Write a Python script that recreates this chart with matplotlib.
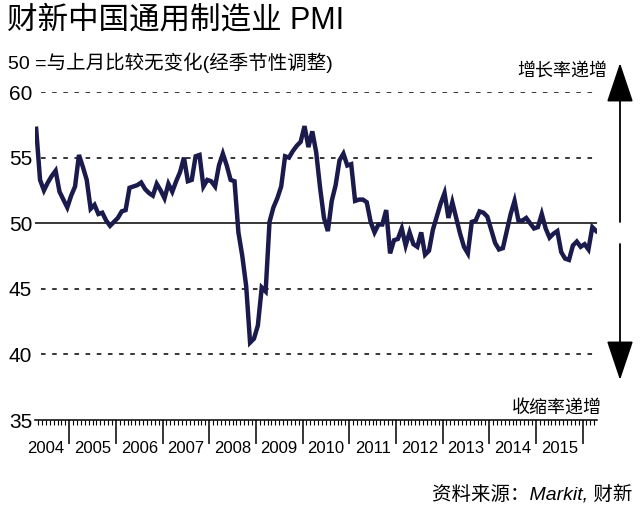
import matplotlib
matplotlib.use("Agg")
import matplotlib.pyplot as plt
from matplotlib.transforms import blended_transform_factory

plt.rcParams['font.family'] = ['Liberation Sans', 'Noto Sans CJK SC', 'DejaVu Sans']

# monthly PMI, Apr 2004 .. Apr 2016 (index 0 = Apr 2004)
pmi = [
    57.2, 53.3, 52.5, 53.1, 53.6, 54.0, 52.4, 51.8, 51.2, 52.1, 52.8, 55.2,
    54.3, 53.3, 51.1, 51.4, 50.7, 50.8, 50.2, 49.8, 50.1, 50.4, 50.9, 51.0,
    52.7, 52.8, 52.9, 53.1, 52.6, 52.3, 52.1, 53.0, 52.5, 51.9, 53.0, 52.4,
    53.2, 53.9, 55.0, 53.2, 53.3, 55.1, 55.2, 52.8, 53.3, 53.2, 52.8, 54.4,
    55.3, 54.4, 53.3, 53.2, 49.3, 47.5, 45.2, 40.9, 41.2, 42.2, 45.1, 44.8,
    50.1, 51.2, 51.9, 52.8, 55.1, 55.0, 55.5, 55.9, 56.2, 57.4, 55.8, 57.0,
    55.4, 52.7, 50.4, 49.4, 51.7, 52.9, 54.8, 55.3, 54.4, 54.5, 51.7, 51.8,
    51.8, 51.6, 50.1, 49.3, 49.9, 49.9, 51.0, 47.7, 48.7, 48.8, 49.6, 48.3,
    49.3, 48.4, 48.2, 49.3, 47.6, 47.9, 49.5, 50.5, 51.5, 52.3, 50.4, 51.6,
    50.4, 49.2, 48.2, 47.7, 50.1, 50.2, 50.9, 50.8, 50.5, 49.5, 48.5, 48.0,
    48.1, 49.4, 50.7, 51.7, 50.2, 50.2, 50.4, 50.0, 49.6, 49.7, 50.7, 49.6,
    48.9, 49.2, 49.4, 47.8, 47.3, 47.2, 48.3, 48.6, 48.2, 48.4, 48.0, 49.7,
    49.4,
]
years = list(range(2004, 2016))
y_ticks = [35, 40, 45, 50, 55, 60]
dashed_levels = [40, 45, 55, 60]

title = "财新中国通用制造业 PMI"
subtitle = "50 =与上月比较无变化(经季节性调整)"
up_label = "增长率递增"
down_label = "收缩率递增"
source = "资料来源：Markit, 财新"

W, H = 640, 509
fig = plt.figure(figsize=(W / 100, H / 100), dpi=100)
ax = fig.add_axes([35 / W, (H - 420) / H, 562 / W, 328 / H])

months = list(range(len(pmi)))
ax.plot(months, pmi, color='#1b1a4d', lw=3.2, solid_joinstyle='miter', zorder=3)

ax.set_xlim(-0.3, 144.2)
ax.set_ylim(35, 60)

for lv in dashed_levels:
    ax.axhline(lv, xmin=0.01, xmax=0.993, color='black', lw=1.1,
               dashes=(3.0, 4.3), zorder=1)
ax.axhline(50, color='black', lw=1.1, zorder=2)

for s in ['left', 'right', 'top']:
    ax.spines[s].set_visible(False)
ax.spines['bottom'].set_linewidth(1.1)

ax.set_yticks(y_ticks)
ax.set_yticklabels([str(v) for v in y_ticks], fontsize=15)
ax.tick_params(axis='y', length=0, pad=2)

# year boundaries as major ticks, months as minor ticks
major = [8.5 + 12 * k for k in range(len(years))]
minor = [0.5 + k for k in range(144)]
ax.set_xticks(major)
ax.set_xticklabels([])
ax.set_xticks(minor, minor=True)
ax.tick_params(axis='x', which='major', length=17, width=1.1, direction='out')
ax.tick_params(axis='x', which='minor', length=3.8, width=0.8, direction='out')

trans = blended_transform_factory(ax.transData, ax.transAxes)
for k, yr in enumerate(years):
    ax.text(2.5 + 12 * k, -0.088, str(yr), transform=trans,
            ha='center', va='center', fontsize=12)

fig.text(7 / W, 1 - 20 / H, title, fontsize=22, ha='left', va='center')
fig.text(8 / W, 1 - 63 / H, subtitle, fontsize=14, ha='left', va='center')
fig.text(607 / W, 1 - 71 / H, up_label, fontsize=13, ha='right', va='center')
fig.text(602 / W, 1 - 408 / H, down_label, fontsize=13, ha='right', va='center')
fig.text(632 / W, 1 - 494 / H, source, fontsize=14, ha='right', va='center',
         style='italic')

# growth / contraction arrows on the right
arrow_kw = dict(arrowstyle='-|>,head_length=1.25,head_width=0.42',
                color='black', lw=1.3, mutation_scale=20, shrinkA=0, shrinkB=0)
ax.annotate('', xy=(620, H - 63), xytext=(620, H - 222),
            xycoords='figure pixels', textcoords='figure pixels',
            arrowprops=arrow_kw, annotation_clip=False)
ax.annotate('', xy=(620, H - 380), xytext=(620, H - 244),
            xycoords='figure pixels', textcoords='figure pixels',
            arrowprops=arrow_kw, annotation_clip=False)

fig.savefig('out.png', dpi=100)
